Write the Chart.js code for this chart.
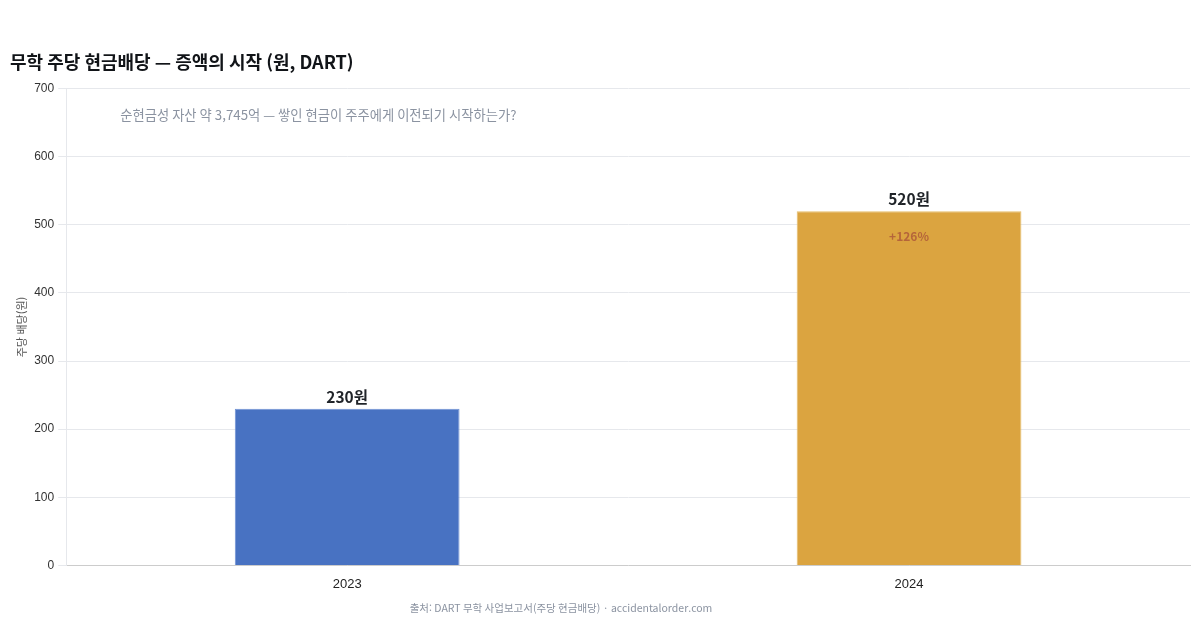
<!DOCTYPE html>
<html lang="ko">
<head>
<meta charset="utf-8">
<script src="https://cdn.jsdelivr.net/npm/chart.js@4/dist/chart.umd.min.js"></script>
<style>
  html, body { margin: 0; padding: 0; background: #ffffff; }
  #wrap { width: 1200px; height: 630px; }
</style>
</head>
<body>
<div id="wrap"><canvas id="grafico" width="1200" height="630"></canvas></div>
<script>
var anos = ["2023", "2024"];
var dividendos = [230, 520];
var coresBarras = ["#4872c2", "#dba440"];
var bordasBarras = ["#6f92d4", "#e6bd6a"];
var ticksY = [0, 100, 200, 300, 400, 500, 600, 700];

var TITULO = "무학 주당 현금배당 — 증액의 시작 (원, DART)";
var ANOTACAO = "순현금성 자산 약 3,745억 — 쌓인 현금이 주주에게 이전되기 시작하는가?";
var RODAPE = "출처: DART 무학 사업보고서(주당 현금배당) · accidentalorder.com";
var FONTE_KR = "'Noto Sans CJK KR', 'Noto Sans', sans-serif";
var FONTE_NUM = "'Liberation Sans', Arial, sans-serif";

// rótulos acima das barras, variação e textos extras
var pluginTextos = {
  id: "textos",
  afterDatasetsDraw: function (chart) {
    var ctx = chart.ctx;
    var meta = chart.getDatasetMeta(0);
    var area = chart.chartArea;

    ctx.save();
    ctx.textAlign = "center";
    ctx.textBaseline = "bottom";
    ctx.fillStyle = "#1f2328";
    ctx.font = "bold 15.5px " + FONTE_KR;
    for (var i = 0; i < meta.data.length; i++) {
      var barra = meta.data[i];
      ctx.fillText(dividendos[i] + "원", barra.x, barra.y - 4);
    }

    var ultima = meta.data[meta.data.length - 1];
    var variacao = Math.round((dividendos[1] - dividendos[0]) / dividendos[0] * 100);
    ctx.textBaseline = "middle";
    ctx.fillStyle = "#b5653a";
    ctx.font = "600 12px " + FONTE_KR;
    ctx.fillText("+" + variacao + "%", ultima.x, ultima.y + 25);

    ctx.textAlign = "left";
    ctx.fillStyle = "#8b93a1";
    ctx.font = "13.3px " + FONTE_KR;
    ctx.fillText(ANOTACAO, area.left + 54, area.top + 26);

    ctx.textAlign = "center";
    ctx.font = "10.5px " + FONTE_KR;
    ctx.fillText(RODAPE, 561, 608);
    ctx.restore();
  }
};

var grafico = new Chart(document.getElementById("grafico"), {
  type: "bar",
  data: {
    labels: anos,
    datasets: [
      {
        label: "주당 배당(원)",
        data: dividendos,
        backgroundColor: coresBarras,
        borderColor: bordasBarras,
        borderWidth: 1,
        barPercentage: 0.4,
        categoryPercentage: 1,
      },
    ],
  },
  options: {
    responsive: false,
    animation: false,
    layout: {
      padding: { top: 51, right: 10, left: 10, bottom: 35 },
    },
    plugins: {
      legend: { display: false },
      tooltip: { enabled: false },
      title: {
        display: true,
        text: TITULO,
        align: "start",
        color: "#111418",
        font: { family: FONTE_KR, size: 18, weight: "bold" },
        padding: { top: 0, bottom: 16 },
      },
    },
    scales: {
      x: {
        grid: { display: false },
        border: { color: "#cccccc" },
        ticks: {
          color: "#222222",
          font: { family: FONTE_NUM, size: 13 },
          padding: 3,
        },
      },
      y: {
        min: 0,
        max: 700,
        afterBuildTicks: function (eixo) {
          eixo.ticks = ticksY.map(function (v) { return { value: v }; });
        },
        grid: { color: "#e6e8ec", tickLength: 8 },
        border: { color: "#e6e8ec" },
        ticks: {
          color: "#333333",
          font: { family: FONTE_NUM, size: 12 },
          padding: 4,
        },
        title: {
          display: true,
          text: "주당 배당(원)",
          color: "#555555",
          font: { family: FONTE_KR, size: 11 },
          padding: { top: 5, bottom: 2 },
        },
      },
    },
  },
  plugins: [pluginTextos],
});
</script>
</body>
</html>
